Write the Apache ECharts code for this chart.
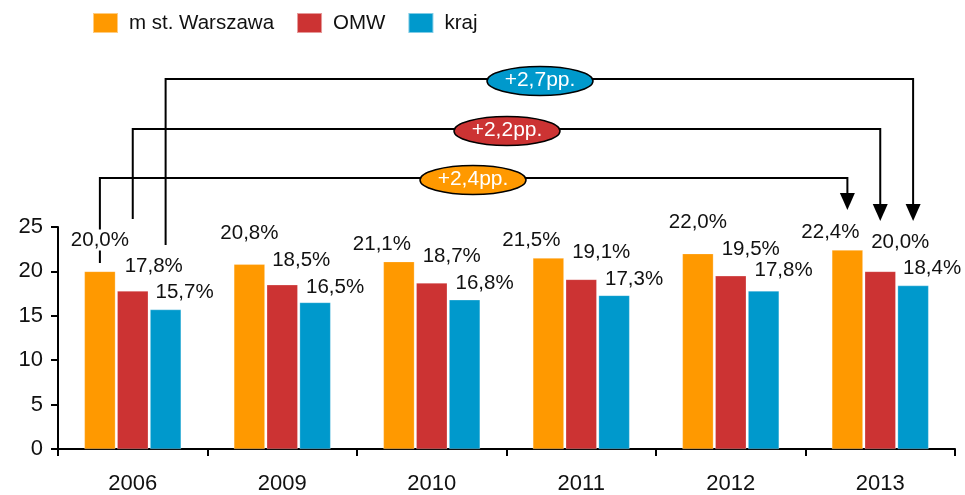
<!DOCTYPE html>
<html>
<head>
<meta charset="utf-8">
<script src="https://cdn.jsdelivr.net/npm/echarts@6/dist/echarts.min.js"></script>
<style>
  html, body { margin: 0; padding: 0; background: #fff; }
  #chart { width: 965px; height: 495px; }
</style>
</head>
<body>
<div id="chart"></div>
<script>
// dane
const categories = ['2006', '2009', '2010', '2011', '2012', '2013'];
const warszawa = [20.0, 20.8, 21.1, 21.5, 22.0, 22.4];
const omw = [17.8, 18.5, 18.7, 19.1, 19.5, 20.0];
const kraj = [15.7, 16.5, 16.8, 17.3, 17.8, 18.4];
const seriesNames = ['m st. Warszawa', 'OMW', 'kraj'];
const changeLabels = ['+2,4pp.', '+2,2pp.', '+2,7pp.'];
const yTicks = [0, 5, 10, 15, 20, 25];

const colors = ['#FF9900', '#CC3333', '#0099CC'];
const FONT = 'Liberation Sans, Arial, sans-serif';

// przesuniecia etykiet (jak w oryginale, recznie ustawione)
const labelNudge = [
  [[0, -17], [0, -16], [-17, -3], [-17, -3], [0, -17], [-17, -3]],
  [[21, -10], [19, -10], [20, -12], [20, -13], [20, -12], [20, -15]],
  [[19, -3], [20, -1], [20, -2], [20, -2], [20, -6], [19, -3]]
];

const fmt = v => v.toFixed(1).replace('.', ',') + '%';

function makeSeries(name, values, idx) {
  return {
    name: name,
    type: 'bar',
    barWidth: 31,
    barGap: '6%',
    itemStyle: { color: colors[idx], borderColor: 'rgba(255,255,255,0.5)', borderWidth: 0.5 },
    data: values.map((v, i) => ({
      value: v,
      label: {
        offset: labelNudge[idx][i],
        backgroundColor: (idx === 0 && i === 0) ? '#fff' : 'transparent'
      }
    })),
    label: {
      show: true,
      position: 'top',
      distance: 4,
      color: '#111',
      fontSize: 20.5,
      fontFamily: FONT,
      formatter: p => fmt(p.value)
    }
  };
}

const chart = echarts.init(document.getElementById('chart'));

chart.setOption({
  animation: false,
  color: colors,
  legend: {
    left: 92,
    top: 12,
    padding: 0,
    itemWidth: 25,
    itemHeight: 20,
    itemGap: 22,
    icon: 'rect',
    textStyle: { fontSize: 20.5, fontFamily: FONT, color: '#111', padding: [0, 0, 0, 6] },
    data: seriesNames
  },
  grid: { left: 58, right: 10, top: 227, bottom: 43 },
  xAxis: {
    type: 'category',
    data: categories,
    axisLine: { lineStyle: { color: '#000', width: 2 } },
    axisTick: { show: true, length: 7, lineStyle: { color: '#000', width: 2 } },
    axisLabel: { fontSize: 22, fontFamily: FONT, color: '#111', margin: 24 }
  },
  yAxis: {
    type: 'value',
    min: yTicks[0],
    max: yTicks[yTicks.length - 1],
    interval: 5,
    splitLine: { show: false },
    axisLine: { show: true, lineStyle: { color: '#000', width: 2 } },
    axisTick: { show: true, length: 7, lineStyle: { color: '#000', width: 2 } },
    axisLabel: { fontSize: 22, fontFamily: FONT, color: '#111', margin: 15 }
  },
  series: [
    makeSeries(seriesNames[0], warszawa, 0),
    makeSeries(seriesNames[1], omw, 1),
    makeSeries(seriesNames[2], kraj, 2)
  ]
});

// klamry ze strzalkami: zmiana 2006 -> 2013
const bracketLevel = [178, 129, 79];   // y poziomej linii (px)
const bracketStart = [263, 219, 245];  // dolny koniec lewej pionowej linii (px)
const arrowTip = [210, 221, 221];      // czubek strzalki (px)
const ovalCx = [473, 507, 540];        // srodek elipsy (px)

const graphics = [];
const last = categories.length - 1;
for (let s = 0; s < 3; s++) {
  const data = chart.getModel().getSeriesByIndex(s).getData();
  const a = data.getItemLayout(0);
  const b = data.getItemLayout(last);
  const xl = a.x + a.width / 2;
  const xr = b.x + b.width / 2;
  const yl = bracketLevel[s];
  const tip = arrowTip[s];
  graphics.push({
    type: 'polyline', z: 1, silent: true,
    shape: { points: [[xl, bracketStart[s]], [xl, yl], [xr, yl], [xr, tip - 16]] },
    style: { stroke: '#000', lineWidth: 2, fill: null }
  });
  graphics.push({
    type: 'polygon', z: 1, silent: true,
    shape: { points: [[xr - 7.5, tip - 17], [xr + 7.5, tip - 17], [xr, tip]] },
    style: { fill: '#000' }
  });
  graphics.push({
    type: 'ellipse', z: 5, silent: true,
    shape: { cx: ovalCx[s], cy: yl + 2, rx: 53, ry: 14.5 },
    style: { fill: colors[s], stroke: '#000', lineWidth: 1.5 }
  });
  graphics.push({
    type: 'text', z: 6, silent: true,
    x: ovalCx[s], y: yl + 1,
    style: {
      text: changeLabels[s], fill: '#fff',
      font: '21px ' + FONT, align: 'center', verticalAlign: 'middle'
    }
  });
}
chart.setOption({ graphic: graphics });
</script>
</body>
</html>
